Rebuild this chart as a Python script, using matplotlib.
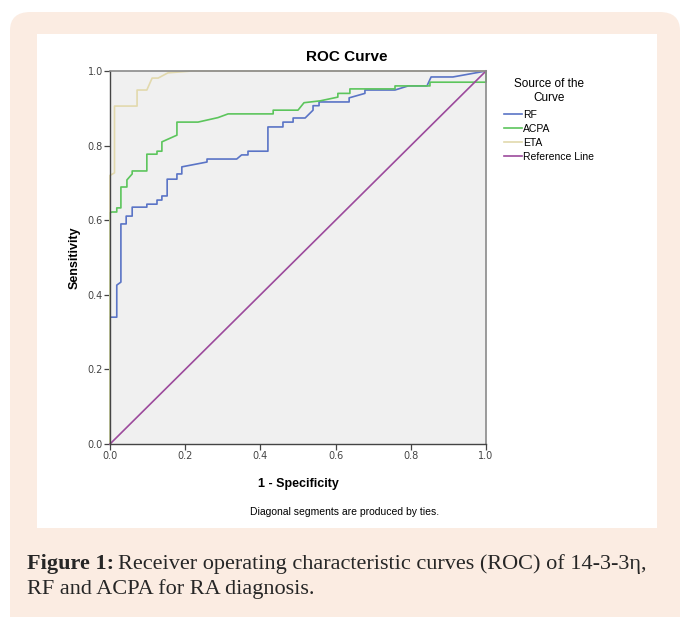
import numpy as np
import matplotlib.pyplot as plt
from matplotlib.patches import FancyBboxPatch, Rectangle

# ROC points (1 - specificity, sensitivity)
rf_x = [0, 0, 0.018, 0.018, 0.029, 0.029, 0.043, 0.043, 0.059, 0.059, 0.098, 0.098,
        0.125, 0.125, 0.138, 0.138, 0.152, 0.152, 0.178, 0.178, 0.191, 0.191, 0.258,
        0.258, 0.337, 0.35, 0.367, 0.367, 0.42, 0.42, 0.46, 0.46, 0.487, 0.487, 0.519,
        0.54, 0.54, 0.556, 0.556, 0.636, 0.636, 0.678, 0.678, 0.758, 0.793, 0.843,
        0.854, 0.912, 1.0]
rf_y = [0, 0.34, 0.34, 0.426, 0.434, 0.59, 0.59, 0.611, 0.611, 0.635, 0.635, 0.643,
        0.643, 0.654, 0.654, 0.665, 0.665, 0.71, 0.71, 0.724, 0.724, 0.743, 0.756,
        0.764, 0.764, 0.775, 0.775, 0.785, 0.785, 0.85, 0.85, 0.863, 0.863, 0.874,
        0.874, 0.895, 0.907, 0.907, 0.917, 0.917, 0.928, 0.94, 0.949, 0.949, 0.96,
        0.96, 0.984, 0.984, 1.0]

acpa_x = [0, 0, 0.005, 0.018, 0.018, 0.029, 0.029, 0.045, 0.045, 0.059, 0.059, 0.098,
          0.098, 0.125, 0.125, 0.138, 0.138, 0.178, 0.178, 0.234, 0.287, 0.314, 0.434,
          0.434, 0.5, 0.516, 0.559, 0.606, 0.606, 0.638, 0.638, 0.758, 0.758, 0.851,
          0.851, 1.0, 1.0]
acpa_y = [0, 0.62, 0.622, 0.622, 0.633, 0.633, 0.689, 0.689, 0.708, 0.724, 0.732, 0.732,
          0.777, 0.777, 0.785, 0.785, 0.81, 0.828, 0.863, 0.863, 0.875, 0.885, 0.885,
          0.895, 0.895, 0.915, 0.92, 0.93, 0.94, 0.94, 0.952, 0.952, 0.96, 0.96,
          0.97, 0.97, 1.0]

eta_x = [0, 0, 0.012, 0.012, 0.072, 0.072, 0.098, 0.112, 0.128, 0.154, 0.218, 1.0]
eta_y = [0, 0.72, 0.727, 0.906, 0.906, 0.949, 0.949, 0.981, 0.981, 0.995, 1.0, 1.0]

ref_x = [0, 1]
ref_y = [0, 1]

series = [("RF", rf_x, rf_y, "#5a74c6"),
          ("ACPA", acpa_x, acpa_y, "#5cc55c"),
          ("ETA", eta_x, eta_y, "#e2d9ad"),
          ("Reference Line", ref_x, ref_y, "#9c4a9c")]

W, H = 683, 617
fig = plt.figure(figsize=(W / 100, H / 100), dpi=100)
fig.patch.set_facecolor("white")

def fx(px): return px / W
def fy(py): return 1 - py / H

# peach card and white inner panel, behind everything
card = FancyBboxPatch((fx(10), fy(640)), fx(670), (640 - 12) / H,
                      boxstyle="round,pad=0,rounding_size=0.03",
                      transform=fig.transFigure, facecolor="#fbece2",
                      edgecolor="none", zorder=-2)
fig.patches.append(card)
panel = Rectangle((fx(37), fy(528)), fx(620), (528 - 34) / H,
                  transform=fig.transFigure, facecolor="white",
                  edgecolor="none", zorder=-1)
fig.patches.append(panel)

ax = fig.add_axes([fx(110), fy(444), 376 / W, 373 / H])
ax.set_facecolor("#f0f0f0")
handles = []
for name, xs, ys, c in series:
    ln, = ax.plot(xs, ys, color=c, lw=1.2, label=name, clip_on=False)
    handles.append(ln)

ax.set_xlim(0, 1)
ax.set_ylim(0, 1)
ticks = [0, 0.2, 0.4, 0.6, 0.8, 1.0]
ax.set_xticks(ticks)
ax.set_yticks(ticks)
ax.set_xticklabels([f"{t:.1f}" for t in ticks])
ax.set_yticklabels([f"{t:.1f}" for t in ticks])
ax.tick_params(direction="out", length=4, width=0.9, labelsize=7,
               labelcolor="#444444", color="#444444", pad=1)
for s in ["left", "bottom"]:
    ax.spines[s].set_color("#444444")
    ax.spines[s].set_linewidth(1.0)
for s in ["top", "right"]:
    ax.spines[s].set_color("#8a8a8a")
    ax.spines[s].set_linewidth(1.2)

font = "Liberation Sans"
ax.set_xlabel("1 - Specificity", fontsize=9, fontweight="bold", family=font, labelpad=12)
ax.set_ylabel("Sensitivity", fontsize=9, fontweight="bold", family=font, labelpad=5)
fig.text(fx(347), fy(57), "ROC Curve", ha="center", va="center", fontsize=11,
         fontweight="bold", family=font)
fig.text(fx(345), fy(512), "Diagonal segments are produced by ties.", ha="center",
         va="center", fontsize=7.5, family=font)

leg = fig.legend(handles=handles, loc="upper left", bbox_to_anchor=(fx(500), fy(74)),
                 title="Source of the\nCurve", frameon=False,
                 title_fontsize=8.5, handlelength=1.7, handletextpad=0.15,
                 labelspacing=0.4, borderaxespad=0, prop={"family": font, "size": 7.5})
leg.get_title().set_family(font)
leg.get_title().set_multialignment("center")
leg._legend_box.sep = 4

# caption: bold "Figure 1:" followed by regular text
cap_kw = dict(ha="left", va="center", fontsize=16, family="Liberation Serif",
              color="#262626")
bold = fig.text(fx(27), fy(564), "Figure 1:", fontweight="bold", **cap_kw)
fig.canvas.draw()
bb = bold.get_window_extent()
fig.text(bb.x1 / W + 4 / W, fy(564),
         "Receiver operating characteristic curves (ROC) of 14-3-3η,", **cap_kw)
fig.text(fx(27), fy(589), "RF and ACPA for RA diagnosis.", **cap_kw)

fig.savefig("out.png", dpi=100)
